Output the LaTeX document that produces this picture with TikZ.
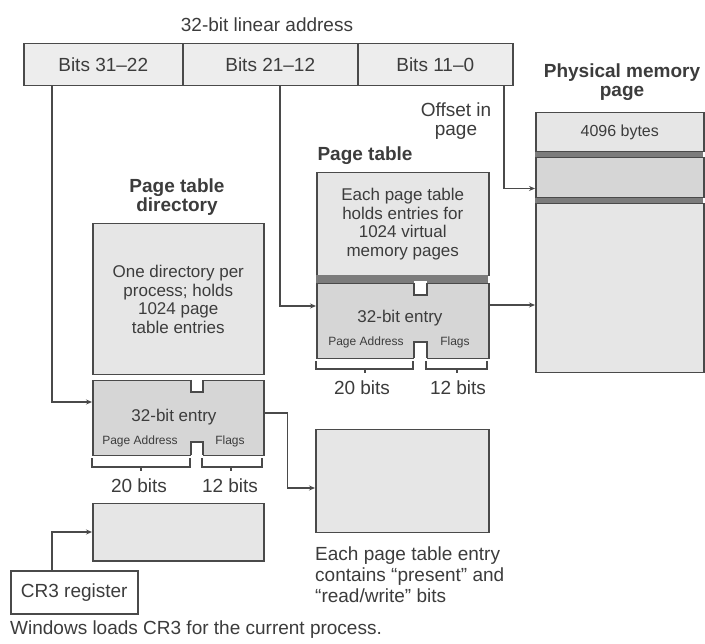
\documentclass[tikz,border=0pt]{standalone}
\usepackage{fontspec}
\setmainfont{Liberation Sans}
\usetikzlibrary{arrows.meta,calc}
\definecolor{bord}{HTML}{4A4A4A}
\definecolor{txt}{HTML}{3C3C3C}
\definecolor{boxf}{HTML}{E6E6E6}
\definecolor{entf}{HTML}{D6D6D6}
\definecolor{addrf}{HTML}{EDEDED}
\definecolor{bandf}{HTML}{7C7C7C}
\begin{document}
\begin{tikzpicture}[x=1pt,y=-1pt,
  every node/.style={text=txt, font=\fontsize{19}{19}\selectfont},
  box/.style={draw=bord, line width=1.5pt, fill=boxf, anchor=north west, inner sep=0pt, align=center},
  ent/.style={box, fill=entf},
  conn/.style={draw=bord, line width=1.3pt, -{Stealth[length=6pt,width=5pt]}},
  plain/.style={draw=bord, line width=1.2pt},
  ttl/.style={font=\fontsize{19}{19}\selectfont\bfseries, align=center},
  inner/.style={font=\fontsize{17}{18.5}\selectfont},
  tiny/.style={font=\fontsize{12}{13}\selectfont}]
\useasboundingbox[fill=white] (0,0) rectangle (705,644);

% linear address
\node (title) at (267,25) {32-bit linear address};
\node[box, fill=addrf, minimum width=159, minimum height=42] (a1) at (23,43) {Bits 31–22};
\node[box, fill=addrf, minimum width=175, minimum height=42] (a2) at (182,43) {Bits 21–12};
\node[box, fill=addrf, minimum width=155, minimum height=42] (a3) at (357,43) {Bits 11–0};

% directory
\node[ttl] (dirt) at (177,197) {Page table\\directory};
\node[box, inner, minimum width=171, minimum height=151] (dir) at (92,223) {One directory per\\process; holds\\1024 page\\table entries};
\node[ent, minimum width=171, minimum height=75] (dirent) at (92,380) {};
\fill[white] (191,378.5) rectangle (203,392);
\draw[plain] (191,380) -- (191,392) -- (203,392) -- (203,380);
\fill[white] (191,442) rectangle (203,456.5);
\draw[plain] (191,455) -- (191,442) -- (203,442) -- (203,455);
\node[inner] (de1) at (174,417) {32-bit entry};
\node[tiny] (de2) at (140,441) {Page Address};
\node[tiny] (de3) at (230,441) {Flags};
\draw[plain] (92,458) -- (92,467) -- (190,467) -- (190,458) (141,467) -- (141,471);
\draw[plain] (202,458) -- (202,467) -- (262,467) -- (262,458) (231,467) -- (231,471);
\node (db1) at (139,486) {20 bits};
\node (db2) at (230,486) {12 bits};

% page table
\node[ttl, anchor=west] (ptt) at (314,156) {Page table};
\node[box, inner, minimum width=172, minimum height=103] (pt) at (316,172) {Each page table\\holds entries for\\1024 virtual\\memory pages};
\fill[bandf] (316,275) rectangle (488,283);
\node[ent, minimum width=172, minimum height=75] (ptent) at (316,283) {};
\fill[white] (414,281.5) rectangle (427,295);
\draw[plain] (414,283) -- (414,295) -- (427,295) -- (427,283);
\fill[white] (414,342) rectangle (427,359.5);
\draw[plain] (414,358) -- (414,342) -- (427,342) -- (427,358);
\node[inner] (pe1) at (400,318) {32-bit entry};
\node[tiny] (pe2) at (366,342) {Page Address};
\node[tiny] (pe3) at (455,342) {Flags};
\draw[plain] (316,361) -- (316,369) -- (413,369) -- (413,361) (365,369) -- (365,373);
\draw[plain] (426,361) -- (426,369) -- (487,369) -- (487,361) (457,369) -- (457,373);
\node (pb1) at (362,388) {20 bits};
\node (pb2) at (458,388) {12 bits};

% lower page table
\node[box, minimum width=173, minimum height=103] (pt2) at (315,429) {};
\node[anchor=north west, align=left, inner sep=0pt, font=\fontsize{19}{21}\selectfont] (note) at (315,547) {Each page table entry\\contains “present” and\\“read/write” bits};

% physical memory
\node[align=center] (off) at (456,121) {Offset in\\page};
\node[ttl] (physt) at (622,82) {Physical memory\\page};
\fill[bandf] (535,151) rectangle (703,157);
\fill[bandf] (535,197) rectangle (703,203);
\node[box, minimum width=168, minimum height=39, font=\fontsize{16}{17}\selectfont] (p1) at (535,112) {4096 bytes};
\node[box, fill=entf, minimum width=168, minimum height=40] (p2) at (535,157) {};
\node[box, minimum width=168, minimum height=169] (p3) at (535,203) {};

% CR3
\node[box, minimum width=171, minimum height=57] (cr3t) at (92,503) {};
\node[box, fill=white, minimum width=127, minimum height=43] (cr3) at (10,570) {CR3 register};
\node[anchor=west, inner sep=0pt] (win) at (10,630) {Windows loads CR3 for the current process.};

% connectors
\draw[conn] ($(a1.south west)+(29,0)$) |- ($(dirent.north west)+(0,22)$);
\draw[conn] ($(a2.south west)+(98,0)$) |- ($(ptent.north west)+(0,23)$);
\draw[conn] ($(a3.south west)+(147,0)$) |- ($(p2.south west)+(0,-10)$);
\draw[conn] ($(ptent.north east)+(0,22)$) -- ($(p3.west |- ptent.north east)+(0,22)$);
\draw[conn] ($(dirent.north east)+(0,33)$) -- ++(23,0) |- ($(pt2.north west)+(0,59)$);
\draw[conn] ($(cr3.north west)+(42,0)$) |- ($(cr3t.north west)+(0,29)$);
\end{tikzpicture}
\end{document}
